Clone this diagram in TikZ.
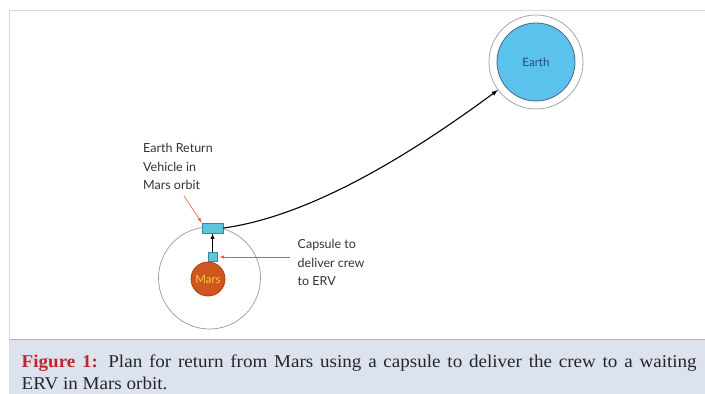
\documentclass[tikz,border=0pt]{standalone}
\usepackage{fontspec}
\newfontfamily\notefont{Lato}
\newfontfamily\capfont[FakeStretch=1.06]{Liberation Serif}
\usetikzlibrary{positioning}
\definecolor{framegray}{HTML}{D9D9D9}
\definecolor{capfill}{HTML}{DCE3EF}
\definecolor{figred}{HTML}{C0272D}
\definecolor{craftfill}{HTML}{5CC6DA}
\definecolor{craftdraw}{HTML}{2C8CA2}
\definecolor{marsfill}{HTML}{D0561F}
\definecolor{marsdraw}{HTML}{A8400F}
\definecolor{marstext}{HTML}{F7C640}
\definecolor{earthfill}{HTML}{5BC2EE}
\definecolor{earthdraw}{HTML}{4A6680}
\definecolor{earthtext}{HTML}{1E4C7A}
\definecolor{pointred}{HTML}{E8593E}

\begin{document}
\begin{tikzpicture}[
  x=1pt, y=-1pt,
  note/.style={
    align=left,
    anchor=north west,
    inner sep=0pt,
    text=black!80,
    font=\notefont\fontsize{12.5}{18.5}\selectfont
  },
  craft/.style={draw=craftdraw, fill=craftfill, line width=0.8pt, inner sep=0pt},
  planet/.style={circle, inner sep=0pt, line width=0.8pt, font=\notefont\fontsize{11.5}{13}\selectfont},
  line/.style={draw, -latex, line width=1.1pt},
  pointer/.style={draw=pointred, -latex, line width=0.6pt}
]
\useasboundingbox (0,0) rectangle (705,394);
\fill[capfill] (9.5,339.5) rectangle (705,394);
\draw[framegray, line width=1.5pt] (705,10.5) -- (9.5,10.5) -- (9.5,394);
\draw[gray!60, line width=0.8pt] (9.5,339.5) -- (705,339.5);

\node[circle, draw=gray!80, line width=0.7pt, minimum size=102, inner sep=0pt] (orbit) at (209.5,278) {};
\node[planet, draw=marsdraw, fill=marsfill, text=marstext, minimum size=34] (mars) at (208,279) {Mars};
\node[craft, minimum width=21, minimum height=10] (erv) at (212.5,228) {};
\node[craft, minimum size=9] (capsule) at (212.5,257) {};

\node[circle, draw=gray!70, fill=white, line width=0.8pt, minimum size=94, inner sep=0pt] (earthring) at (536,62) {};
\node[planet, draw=earthdraw, fill=earthfill, text=earthtext, minimum size=78] (earth) at (536,62) {Earth};

\node[note] (ervnote) at (143,143.5) {Earth Return\\Vehicle in\\Mars orbit};
\node[note] (capsulenote) at (297.5,239.5) {Capsule to\\deliver crew\\to ERV};
\coordinate (ervtail) at (184,196);
\coordinate (capsuletail) at (290,257);

\draw[line] (erv.east) .. controls (320,215) and (430,140) .. (earthring);
\draw[line, line width=0.9pt] (capsule) -- (erv);
\draw[pointer] (ervtail) -- (erv.north west);
\draw[pointer, shorten >=2pt] (capsuletail) -- (capsule);

\node[anchor=north west, inner sep=0pt, text width=675, align=justify,
  font=\capfont\fontsize{18}{22}\selectfont, text=black!85] (caption) at (21.5,355)
  {\textcolor{figred}{\bfseries Figure 1:} Plan for return from Mars using a capsule to deliver the crew to a waiting\linebreak ERV in Mars orbit.};
\end{tikzpicture}
\end{document}
